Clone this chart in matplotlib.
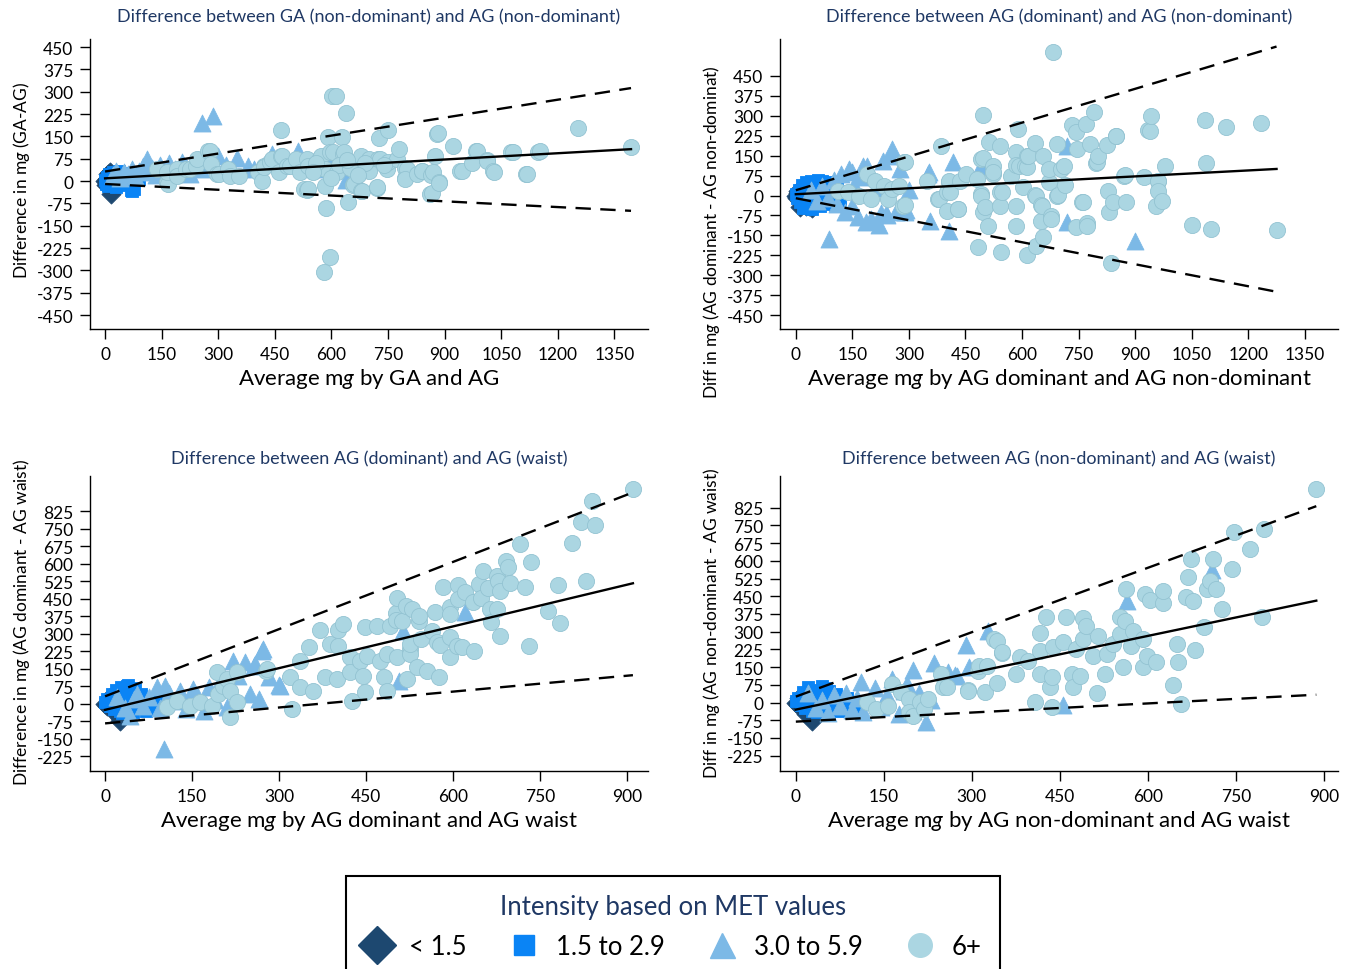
import numpy as np
import matplotlib
matplotlib.use("Agg")
import matplotlib.pyplot as plt
from matplotlib.lines import Line2D

plt.rcParams["font.family"] = ["Lato", "DejaVu Sans"]
plt.rcParams["mathtext.fontset"] = "custom"
plt.rcParams["mathtext.rm"] = "Lato"
plt.rcParams["mathtext.it"] = "Lato:italic"
plt.rcParams["axes.unicode_minus"] = False

# ---------------- data ----------------
# panel 1: GA (non-dominant) vs AG (non-dominant)
p1_lt15 = [(0, 0), (4, 8), (6, -6), (10, 12), (12, -4), (16, -42), (18, 6), (22, 20),
           (3, -14), (8, 24), (26, -8), (14, 30)]
p1_15_29 = [(0, 2), (3, -10), (5, 12), (8, -18), (10, 25), (12, 0), (15, -12), (18, 18),
            (20, 30), (22, -5), (25, 8), (28, -20), (30, 22), (33, 2), (36, -8), (38, 32),
            (42, 12), (45, -3), (48, 24), (52, 6), (55, -12), (58, 18), (62, 28), (65, 4),
            (68, -30), (72, -32), (76, -26), (80, 14), (85, 30), (90, 8)]
p1_30_59 = [(20, 20), (30, 35), (40, 10), (50, 30), (60, 22), (70, 40), (80, 18), (90, 35),
            (100, 50), (110, 75), (115, 30), (125, 45), (135, 20), (145, 55), (155, 38),
            (165, 25), (170, 60), (185, 42), (195, 30), (205, 65), (215, 48), (225, 25),
            (235, 55), (245, 70), (255, 40), (256, 195), (286, 219), (300, 85), (320, 55),
            (349, 79), (379, 51), (395, 40), (442, 91), (512, 102), (639, 2), (560, 40),
            (590, 70)]
p1_6plus = [(163, -4), (166, -10), (137, 40), (163, 29), (190, 40), (191, 18), (214, 40),
            (225, 40), (242, 51), (243, 74), (274, 102), (278, 102), (281, 57), (296, 23),
            (303, 23), (326, 40), (331, 18), (354, 18), (404, 29), (415, 1), (420, 51),
            (421, 46), (437, 63), (442, 74), (460, 29), (465, 85), (466, 172), (468, 85),
            (482, 51), (490, 51), (505, 74), (516, 29), (526, -27), (535, -30), (535, 74),
            (538, 51), (538, -27), (570, 79), (572, 85), (583, 40), (583, -16), (586, -92),
            (591, 148), (596, 96), (596, -254), (579, -306), (601, 286), (612, 286),
            (605, 96), (616, 29), (627, 148), (631, 91), (633, 96), (638, 230), (645, -72),
            (657, -13), (661, -10), (678, 79), (678, 85), (679, -32), (681, -33), (700, 35),
            (700, 74), (720, -23), (722, -21), (724, 74), (727, 144), (728, 74), (747, 40),
            (751, 172), (751, 63), (773, 74), (778, 107), (796, 43), (796, 10), (801, 40),
            (795, 7), (826, 23), (839, 35), (840, 35), (864, 21), (862, -44), (867, -40),
            (868, 29), (875, 85), (879, 158), (882, 161), (885, -4), (886, -7), (921, 118),
            (940, 35), (946, 35), (972, 60), (982, 102), (985, 102), (1011, 72), (1013, 68),
            (1029, 32), (1030, 29), (1075, 98), (1080, 96), (1116, 23), (1119, 23),
            (1147, 98), (1153, 102), (1253, 178), (1394, 113), (560, 60), (620, 55),
            (650, 45), (690, 60), (740, 55), (550, 30), (600, 10), (640, 70), (670, 20)]
p1_fit = (9, 0.0703)
p1_upper = (32, 0.201)
p1_lower = (-10, -0.0646)
p1_xmax = 1394

# panel 2: AG (dominant) vs AG (non-dominant)
p2_lt15 = [(0, 0), (3, -10), (6, 8), (10, -20), (14, 4), (18, -30), (22, -12), (28, -38),
           (5, 16), (35, -40), (10, -43), (42, -47)]
p2_15_29 = [(0, 5), (4, -8), (8, 20), (12, -25), (16, 40), (20, 10), (24, -15), (28, 50),
            (32, 30), (36, -35), (40, 55), (45, 0), (50, -20), (55, 45), (60, 25), (65, -40),
            (70, 55), (75, 10), (80, -30), (85, 40), (90, 20), (95, -10), (100, 50),
            (105, -35), (110, 35), (118, -20), (125, 10), (20, -45), (44, -50), (60, 60)]
p2_30_59 = [(40, 20), (55, -20), (70, 35), (85, -10), (88, -164), (100, 60), (110, -30),
            (120, 80), (130, -60), (140, 100), (150, 87), (150, -40), (155, 40), (165, -80),
            (175, 70), (178, 112), (185, -100), (190, 110), (200, -90), (210, 30),
            (220, -110), (225, -67), (230, 130), (240, -70), (242, -72), (250, 150),
            (256, 175), (265, -60), (275, 100), (289, -62), (292, -55), (300, 20), (351, 81),
            (354, 87), (357, -95), (407, -132), (418, 125), (491, 112), (720, 185),
            (720, -99), (899, -172)]
p2_6plus = [(111, 18), (139, 12), (167, 0), (188, 81), (200, -13), (211, 56), (234, 37),
            (245, -13), (256, 24), (273, 37), (284, -38), (286, 125), (289, -35), (290, 125),
            (347, 56), (378, -13), (379, -13), (384, 187), (400, -57), (401, 12), (405, 50),
            (407, 56), (409, 12), (429, -51), (430, -51), (435, 56), (452, 81), (480, 62),
            (483, -195), (491, 6), (491, 0), (491, 137), (496, 140), (497, 303), (497, -63),
            (502, -44), (510, -114), (513, 203), (522, 112), (522, 81), (524, 87), (541, 185),
            (541, 12), (541, -38), (543, -214), (547, 12), (570, 75), (583, 163), (585, 115),
            (585, -38), (585, -114), (590, 250), (592, 112), (603, 31), (608, 112),
            (614, 106), (614, 150), (614, -223), (616, 148), (634, 198), (635, 2),
            (636, 0), (638, -189), (650, -95), (651, -35), (653, -38), (656, 150),
            (656, -157), (671, 50), (672, 100), (676, -76), (678, -88), (682, 539),
            (693, 0), (694, 194), (696, 2), (704, 100), (712, 110), (715, 41), (733, 265),
            (744, 240), (744, -120), (746, 175), (759, -26), (762, -26), (769, 269),
            (771, -104), (771, -114), (781, 194), (790, 316), (795, 122), (799, 125),
            (802, 150), (826, 190), (827, 16), (831, -63), (835, -252), (841, -26),
            (849, 225), (850, 225), (871, 75), (872, 77), (877, -26), (923, 68), (934, 247),
            (939, 244), (941, 301), (955, -41), (960, 56), (961, 56), (961, 18), (970, -20),
            (980, 112), (1051, -109), (1085, 286), (1089, 122), (1100, -126), (1142, 259),
            (1235, 273), (1275, -130)]
p2_fit = (5, 0.0746)
p2_upper = (20, 0.424)
p2_lower = (-10, -0.276)
p2_xmax = 1275

# panel 3: AG (dominant) vs AG (waist)
p3_lt15 = [(0, 0), (4, -10), (8, 10), (12, -20), (16, 5), (20, -35), (25, -60), (26, -74),
           (30, -50), (6, 25), (18, -45)]
p3_15_29 = [(0, 5), (4, 20), (8, -10), (12, 40), (15, -25), (18, 60), (22, 10), (25, -30),
            (28, 70), (32, 35), (35, -15), (38, 75), (42, 50), (45, 0), (48, -35), (52, 65),
            (55, 20), (60, -20), (62, 40), (66, 5), (70, -30), (74, 25), (78, -10), (82, 15),
            (86, -25), (90, 5), (95, -15), (100, 10), (40, 80), (30, -40)]
p3_30_59 = [(20, 30), (35, -20), (43, -52), (49, 19), (55, 40), (65, -10), (75, 30),
            (89, 69), (95, -20), (101, -195), (103, 76), (110, 45), (120, 10), (130, 55),
            (140, -25), (152, 62), (160, 30), (170, -30), (180, 70), (190, 15), (200, 100),
            (210, -15), (221, 184), (230, 120), (241, 177), (250, 40), (256, 162),
            (259, 170), (265, 20), (270, 226), (272, 234), (282, 112), (300, 81), (302, 76),
            (507, 95), (514, 312), (620, 391)]
p3_6plus = [(106, -16), (124, 12), (147, -9), (164, 5), (184, -9), (193, 134), (195, 41),
            (204, 76), (210, 105), (216, 55), (216, -59), (227, 5), (227, 134), (278, 141),
            (279, 148), (319, 112), (322, -24), (336, 184), (336, 69), (351, 241), (359, 55),
            (370, 315), (379, 112), (388, 255), (399, 105), (402, 248), (402, 315),
            (411, 341), (422, 198), (422, 134), (425, 12), (440, 184), (445, 119), (448, 327),
            (448, 48), (451, 205), (468, 333), (474, 184), (480, 112), (486, 212), (486, 55),
            (491, 333), (501, 387), (501, 359), (503, 452), (503, 198), (512, 355),
            (519, 419), (520, 105), (526, 234), (526, 212), (526, 255), (529, 405),
            (537, 155), (541, 355), (541, 376), (544, 276), (555, 141), (563, 312),
            (569, 394), (572, 262), (575, 115), (578, 252), (582, 501), (595, 412),
            (595, 384), (595, 284), (595, 198), (606, 248), (609, 509), (609, 448),
            (615, 241), (621, 477), (635, 434), (636, 224), (645, 512), (648, 451),
            (651, 567), (661, 495), (664, 405), (665, 348), (675, 548), (675, 405),
            (678, 526), (681, 483), (681, 291), (691, 609), (694, 584), (698, 515),
            (716, 684), (724, 498), (730, 248), (734, 605), (764, 395), (781, 508),
            (784, 345), (805, 688), (821, 777), (829, 524), (839, 867), (845, 766),
            (910, 919)]
p3_fit = (-27, 0.596)
p3_upper = (31, 0.96)
p3_lower = (-85, 0.227)
p3_xmax = 910

# panel 4: AG (non-dominant) vs AG (waist)
p4_lt15 = [(0, 0), (4, -12), (8, 8), (12, -25), (16, -5), (22, -40), (28, -77), (26, -60),
           (6, 20), (18, -50)]
p4_15_29 = [(0, 5), (4, 20), (8, -12), (12, 45), (16, -25), (20, 65), (24, 15), (28, -35),
            (32, 55), (36, 35), (40, -10), (44, 70), (48, 25), (52, -30), (56, 50), (60, 0),
            (64, -20), (68, 35), (72, -35), (76, 15), (80, -5), (84, -30), (88, 20),
            (92, -20), (96, -35), (100, 0), (105, -25), (110, -10), (36, -40), (52, 60)]
p4_30_59 = [(20, 40), (35, -25), (45, 10), (55, -45), (65, 30), (75, -15), (85, 40),
            (95, -30), (105, 20), (111, 86), (115, -40), (125, 10), (135, 60), (145, -20),
            (155, 30), (164, 100), (175, -50), (185, 50), (190, 80), (200, 139), (210, 40),
            (222, -84), (230, 10), (236, 167), (260, 130), (272, 118), (274, 113),
            (290, 245), (295, 149), (327, 301), (456, -9), (565, 431), (710, 561), (200, -35)]
p4_6plus = [(121, 1), (136, -28), (157, -14), (164, 78), (179, 43), (193, 15), (193, -42),
            (200, -56), (211, 1), (219, -28), (226, 15), (248, 121), (251, 64), (257, 64),
            (294, 53), (294, 50), (311, 135), (312, 156), (322, 43), (325, 156), (337, 269),
            (342, 259), (342, 81), (351, 208), (351, 212), (376, 121), (382, 191),
            (396, 177), (407, 1), (416, 293), (416, 219), (416, 121), (426, 361), (433, 64),
            (436, 107), (436, -20), (439, 234), (456, 255), (461, 361), (470, 121),
            (473, 64), (478, 226), (484, 113), (490, 358), (490, 269), (495, 325),
            (507, 198), (513, 40), (515, 283), (527, 121), (530, 205), (541, 248),
            (552, 361), (552, 290), (558, 149), (561, 346), (562, 481), (572, 240),
            (575, 304), (592, 269), (592, 152), (595, 459), (598, 198), (604, 434),
            (614, 170), (625, 420), (626, 473), (643, 74), (650, 248), (652, 170),
            (656, -6), (665, 448), (668, 530), (673, 608), (677, 428), (680, 222),
            (695, 321), (700, 481), (705, 513), (711, 608), (716, 481), (727, 396),
            (744, 565), (747, 720), (774, 650), (794, 363), (798, 735), (886, 904)]
p4_fit = (-30, 0.52)
p4_upper = (25, 0.909)
p4_lower = (-81, 0.1285)
p4_xmax = 887

panel_titles = ["Difference between GA (non-dominant) and AG (non-dominant)",
                "Difference between AG (dominant) and AG (non-dominant)",
                "Difference between AG (dominant) and AG (waist)",
                "Difference between AG (non-dominant) and AG (waist)"]
x_labels = ["Average m$g$ by GA and AG",
            "Average m$g$ by AG dominant and AG non-dominant",
            "Average m$g$ by AG dominant and AG waist",
            "Average m$g$ by AG non-dominant and AG waist"]
y_labels = ["Difference in m$g$ (GA-AG)",
            "Diff in m$g$ (AG dominant - AG non-dominat)",
            "Difference in m$g$ (AG dominant - AG waist)",
            "Diff in m$g$ (AG non-dominant - AG waist)"]
group_labels = ["< 1.5", "1.5 to 2.9", "3.0 to 5.9", "6+"]

# ---------------- styles ----------------
navy = "#1f3864"
grp_style = [
    dict(marker="D", color="#1d4870", s=95),
    dict(marker="s", color="#0a84f5", s=80),
    dict(marker="^", color="#7cb9e6", s=150),
    dict(marker="o", color="#abd6e2", s=135),
]

# figure-fraction boxes [left, bottom, width, height]
boxes = [
    [90 / 1351, 1 - 330 / 970, 558 / 1351, 290 / 970],
    [780 / 1351, 1 - 330 / 970, 558 / 1351, 290 / 970],
    [90 / 1351, 1 - 772 / 970, 558 / 1351, 295 / 970],
    [780 / 1351, 1 - 772 / 970, 558 / 1351, 295 / 970],
]
xlims = [(-40, 1439), (-42, 1438), (-26, 936), (-27, 924)]
ylims = [(-497, 477), (-502, 589), (-289, 975), (-290, 959)]
xticks = [np.arange(0, 1351, 150), np.arange(0, 1351, 150),
          np.arange(0, 901, 150), np.arange(0, 901, 150)]
yticks = [np.arange(-450, 451, 75), np.arange(-450, 451, 75),
          np.arange(-225, 826, 75), np.arange(-225, 826, 75)]
ylab_y = [0.517, 0.338, 0.508, 0.505]
title_y = [1.079, 1.079, 1.061, 1.061]
xlab_y = [-0.169, -0.169, -0.165, -0.165]

panels = [
    (p1_lt15, p1_15_29, p1_30_59, p1_6plus, p1_fit, p1_upper, p1_lower, p1_xmax),
    (p2_lt15, p2_15_29, p2_30_59, p2_6plus, p2_fit, p2_upper, p2_lower, p2_xmax),
    (p3_lt15, p3_15_29, p3_30_59, p3_6plus, p3_fit, p3_upper, p3_lower, p3_xmax),
    (p4_lt15, p4_15_29, p4_30_59, p4_6plus, p4_fit, p4_upper, p4_lower, p4_xmax),
]

fig = plt.figure(figsize=(13.51, 9.70), dpi=100)

for i, (d0, d1, d2, d3, fit, up, lo, xmax) in enumerate(panels):
    ax = fig.add_axes(boxes[i])
    for pts, st in zip([d0, d1, d2, d3], grp_style):
        arr = np.array(pts, dtype=float)
        edge = "#93c3d2" if st["marker"] == "o" else st["color"]
        ax.scatter(arr[:, 0], arr[:, 1], marker=st["marker"], s=st["s"],
                   facecolor=st["color"], edgecolor=edge, linewidth=0.6, zorder=2)

    xs = np.array([0, xmax])
    ax.plot(xs, fit[0] + fit[1] * xs, color="black", lw=1.7, zorder=5)
    for a, b in (up, lo):
        ax.plot(xs, a + b * xs, color="black", lw=1.7, ls=(0, (6.5, 4)), zorder=5)

    ax.set_xlim(*xlims[i])
    ax.set_ylim(*ylims[i])
    ax.set_xticks(xticks[i])
    ax.set_yticks(yticks[i])
    ax.tick_params(direction="out", length=7, width=1, labelsize=12.5, pad=5)
    for side in ("top", "right"):
        ax.spines[side].set_visible(False)
    ax.spines["left"].set_linewidth(1)
    ax.spines["bottom"].set_linewidth(1)

    ax.text(0.5, title_y[i], panel_titles[i], transform=ax.transAxes, color=navy,
            fontsize=13, ha="center", va="center")
    ax.set_xlabel(x_labels[i], fontsize=16, va="center")
    ax.xaxis.set_label_coords(0.5, xlab_y[i])
    ax.set_ylabel(y_labels[i], fontsize=12.5, va="center")
    ax.yaxis.set_label_coords(-0.122, ylab_y[i])

handles = [
    Line2D([], [], ls="none", marker="D", markersize=19, color="#1d4870"),
    Line2D([], [], ls="none", marker="s", markersize=15, color="#0a84f5"),
    Line2D([], [], ls="none", marker="^", markersize=18, color="#7cb9e6"),
    Line2D([], [], ls="none", marker="o", markersize=17, color="#abd6e2"),
]
leg = fig.legend(handles, group_labels, loc="upper center",
                 bbox_to_anchor=(673 / 1351, 1 - 877 / 970), ncol=4,
                 title="Intensity based on MET values", fontsize=18.5, title_fontsize=18.5,
                 frameon=True, fancybox=False, framealpha=1, edgecolor="black",
                 borderpad=0.72, columnspacing=1.72, handletextpad=0.75, handlelength=1.0,
                 labelspacing=0.55, borderaxespad=0)
leg.get_frame().set_linewidth(1.5)
leg.get_title().set_color(navy)

fig.savefig("out.png", dpi=100)
